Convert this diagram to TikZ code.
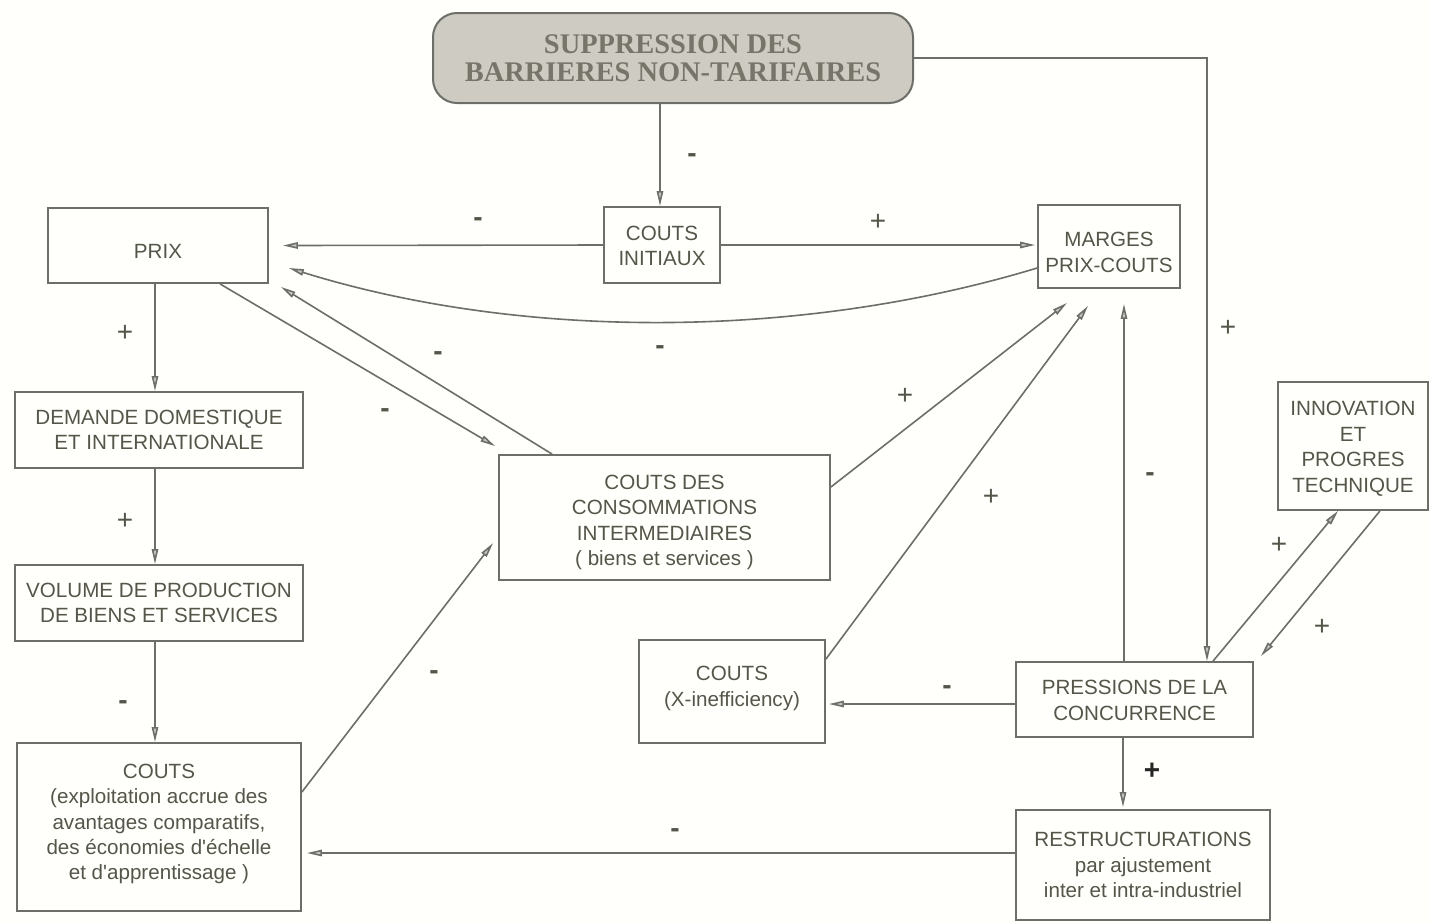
\documentclass[tikz,border=0pt]{standalone}
\usepackage{fontspec}
\setmainfont{Liberation Sans}
\newfontfamily\titlefont{Liberation Serif}
\usetikzlibrary{arrows.meta}
\definecolor{txt}{HTML}{55554A}
\definecolor{ln}{HTML}{6E6E68}
\definecolor{tfill}{HTML}{CDCBC2}
\definecolor{ttxt}{HTML}{77746A}
\definecolor{bg}{HTML}{FFFFFB}
\newcommand{\dnshift}[2]{\raisebox{-#1}[\height][\depth]{\begin{tabular}{@{}c@{}}#2\end{tabular}}}
\begin{document}
\begin{tikzpicture}[x=0.5pt,y=-0.5pt,
  box/.style={draw=ln, line width=0.9pt, align=center, text=txt,
    font=\fontsize{10.3}{12.7}\selectfont, inner sep=0pt},
  conn/.style={draw=ln, line width=0.8pt,
    -{Triangle[length=7.5pt,width=3.2pt,fill=gray!45]}},
  sgn/.style={text=txt, font=\fontsize{14}{14}\selectfont},
  msgn/.style={text=txt, font=\bfseries\fontsize{14}{14}\selectfont}]
\path[fill=bg] (0,0) rectangle (1430,923);

% nodes
\node[box, rounded corners=12pt, fill=tfill, line width=1pt, minimum width=240pt, minimum height=45pt,
  text=ttxt, font=\titlefont\bfseries\fontsize{14.2}{13.8}\selectfont] (top) at (673,58)
  {SUPPRESSION DES\\BARRIERES NON-TARIFAIRES};
\node[box, minimum width=58pt, minimum height=38pt] (ci) at (662,245) {\dnshift{1.5pt}{COUTS\\INITIAUX}};
\node[box, minimum width=110pt, minimum height=37.5pt] (prix) at (158,245.5) {\dnshift{4pt}{PRIX}};
\node[box, minimum width=71pt, minimum height=41.5pt] (mg) at (1109,246.5) {\dnshift{4pt}{MARGES\\PRIX-COUTS}};
\node[box, minimum width=144pt, minimum height=38pt] (dem) at (159,430) {DEMANDE DOMESTIQUE\\ET INTERNATIONALE};
\node[box, minimum width=144pt, minimum height=38pt] (vol) at (159,603) {VOLUME DE PRODUCTION\\DE BIENS ET SERVICES};
\node[box, minimum width=142pt, minimum height=84pt] (ce) at (159,827)
  {\dnshift{-1.5pt}{COUTS\\(exploitation accrue des\\avantages comparatifs,\\des économies d\textquotesingle échelle\\et d\textquotesingle apprentissage )}};
\node[box, minimum width=165.5pt, minimum height=62.5pt] (cc) at (664.5,517.5)
  {\dnshift{2.5pt}{COUTS DES\\CONSOMMATIONS\\INTERMEDIAIRES\\( biens et services )}};
\node[box, minimum width=93pt, minimum height=51.5pt] (xi) at (732,691.5) {\dnshift{-1.5pt}{COUTS\\(X-inefficiency)}};
\node[box, minimum width=118.5pt, minimum height=37.5pt] (pr) at (1134.5,699.5) {\dnshift{1.5pt}{PRESSIONS DE LA\\CONCURRENCE}};
\node[box, minimum width=127pt, minimum height=55pt] (rs) at (1143,865)
  {RESTRUCTURATIONS\\par ajustement\\inter et intra-industriel};
\node[box, minimum width=75pt, minimum height=64pt] (inn) at (1353,446)
  {\dnshift{1.5pt}{INNOVATION\\ET\\PROGRES\\TECHNIQUE}};

% connectors
\draw[conn] ([xshift=-6.5pt]top.south) -- ([xshift=-1pt]ci.north);
\draw[conn] (top.east) -| ([xshift=36.25pt]pr.north);
\draw[conn] (ci.west) -- ([xshift=7pt]prix.east);
\draw[conn] (ci.east) -- ([xshift=-1pt,yshift=0.75pt]mg.west);
\draw[conn] ([yshift=-10.75pt]mg.west) .. controls (800,340) and (520,340) .. ([xshift=10pt,yshift=-11.25pt]prix.east);
\draw[conn] ([xshift=31pt]prix.south) -- ([xshift=-1.5pt,yshift=4pt]cc.north west);
\draw[conn] ([xshift=27pt]cc.north west) -- ([xshift=6pt,yshift=-1.5pt]prix.south east);
\draw[conn] ([xshift=-1.5pt]prix.south) -- ([xshift=-2pt]dem.north);
\draw[conn] ([xshift=-2pt]dem.south) -- ([xshift=-2pt]vol.north);
\draw[conn] ([xshift=-2pt]vol.south) -- ([xshift=-2pt]ce.north);
\draw[conn] ([yshift=17.5pt]ce.east) -- ([xshift=-2.5pt,yshift=-12.75pt]cc.west);
\draw[conn] ([yshift=15.25pt]cc.east) -- ([xshift=-21pt,yshift=-7pt]mg.south);
\draw[conn] ([yshift=-10pt]xi.north east) -- ([xshift=-10.5pt,yshift=-8.5pt]mg.south);
\draw[conn] ([xshift=-5.25pt]pr.north) -- ([xshift=7.5pt,yshift=-7.5pt]mg.south);
\draw[conn] ([yshift=-2.25pt]pr.west) -- ([xshift=1.5pt,yshift=-6.25pt]xi.east);
\draw[conn] ([xshift=39.25pt]pr.north) -- ([xshift=-7.5pt]inn.south);
\draw[conn] ([xshift=13.5pt]inn.south) -- ([xshift=3.5pt,yshift=2.5pt]pr.north east);
\draw[conn] ([xshift=-5.75pt]pr.south) -- ([xshift=-10pt,yshift=1pt]rs.north);
\draw[conn] ([yshift=6pt]rs.west) -- ([xshift=2.5pt,yshift=-13pt]ce.east);

% signs
\node[msgn] (s1) at (692,158) {-};
\node[sgn] (s2) at (1228,328) {+};
\node[msgn] (s3) at (478,222) {-};
\node[sgn] (s4) at (878,222) {+};
\node[msgn] (s5) at (660,350) {-};
\node[msgn] (s6) at (385,413) {-};
\node[msgn] (s7) at (438,356) {-};
\node[sgn] (s8) at (125,333) {+};
\node[sgn] (s9) at (125,521) {+};
\node[msgn] (s10) at (123,705) {-};
\node[msgn] (s11) at (434,675) {-};
\node[sgn] (s12) at (905,396) {+};
\node[sgn] (s13) at (991,497) {+};
\node[msgn] (s14) at (1150,477) {-};
\node[msgn] (s15) at (947,690) {-};
\node[sgn] (s16) at (1279,545) {+};
\node[sgn] (s17) at (1322,627) {+};
\node[sgn, text=black!85, font=\bfseries\fontsize{14}{14}\selectfont] (s18) at (1152,771) {+};
\node[msgn] (s19) at (675,833) {-};
\end{tikzpicture}
\end{document}
